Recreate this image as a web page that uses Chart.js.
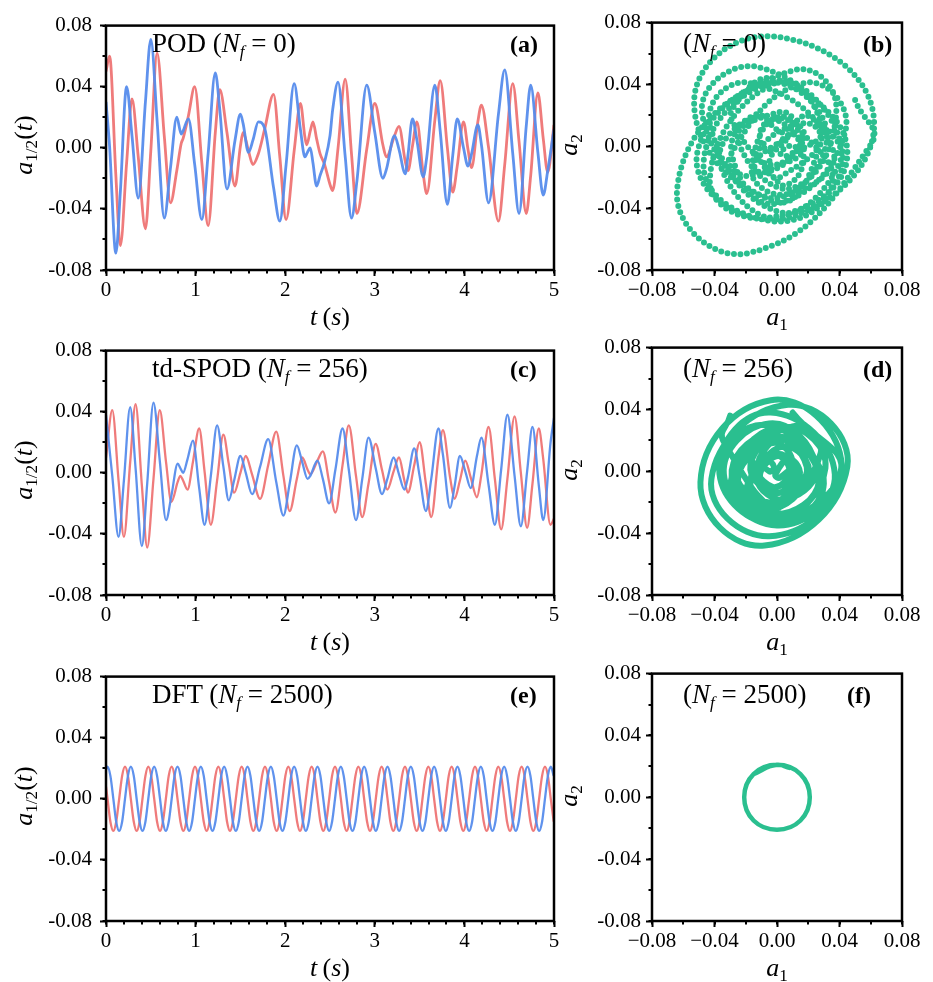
<!DOCTYPE html>
<html>
<head>
<meta charset="utf-8">
<title>Mode coefficients: POD, td-SPOD, DFT</title>
<script src="https://cdn.jsdelivr.net/npm/chart.js"></script>
<style>
  body { margin: 0; background: #fff; width: 933px; height: 982px; position: relative; overflow: hidden; font-family: "Liberation Serif", "DejaVu Serif", serif; }
  canvas { position: absolute; }
  .lbl { position: absolute; white-space: nowrap; color: #000; line-height: 1; }
  .big { font-size: 27px; }
  .tag { font-size: 24px; font-weight: bold; }
  .ttl { font-size: 26px; }
  .xt { transform: translateX(-50%); }
  .yt { transform: translate(-50%, -50%) rotate(-90deg); }
  .sf { font-size: 0.63em; font-style: italic; position: relative; top: 0.32em; }
  .sn { font-size: 0.66em; position: relative; top: 0.3em; }
</style>
</head>
<body>
  <canvas id="podLine" width="558" height="305" style="left:26px;top:5px"></canvas>
  <canvas id="podPhase" width="360" height="305" style="left:572px;top:5px"></canvas>
  <canvas id="spodLine" width="558" height="305" style="left:26px;top:330px"></canvas>
  <canvas id="spodPhase" width="360" height="305" style="left:572px;top:330px"></canvas>
  <canvas id="dftLine" width="558" height="305" style="left:26px;top:656px"></canvas>
  <canvas id="dftPhase" width="360" height="305" style="left:572px;top:656px"></canvas>

  <!-- panel notes -->
  <div class="lbl big" style="left:152px;top:30px">POD (<i>N</i><span class="sf">f</span> = 0)</div>
  <div class="lbl tag" style="left:510px;top:32px">(a)</div>
  <div class="lbl big" style="left:683px;top:30px">(<i>N</i><span class="sf">f</span> = 0)</div>
  <div class="lbl tag" style="left:863px;top:32px">(b)</div>

  <div class="lbl big" style="left:152px;top:355px">td-SPOD (<i>N</i><span class="sf">f</span> = 256)</div>
  <div class="lbl tag" style="left:510px;top:357px">(c)</div>
  <div class="lbl big" style="left:683px;top:355px">(<i>N</i><span class="sf">f</span> = 256)</div>
  <div class="lbl tag" style="left:863px;top:357px">(d)</div>

  <div class="lbl big" style="left:152px;top:681px">DFT (<i>N</i><span class="sf">f</span> = 2500)</div>
  <div class="lbl tag" style="left:510px;top:683px">(e)</div>
  <div class="lbl big" style="left:683px;top:681px">(<i>N</i><span class="sf">f</span> = 2500)</div>
  <div class="lbl tag" style="left:847px;top:683px">(f)</div>

  <!-- axis titles -->
  <div class="lbl ttl yt" style="left:24px;top:145px"><i>a</i><span class="sn">1/2</span>(<i>t</i>)</div>
  <div class="lbl ttl yt" style="left:24px;top:470px"><i>a</i><span class="sn">1/2</span>(<i>t</i>)</div>
  <div class="lbl ttl yt" style="left:24px;top:796px"><i>a</i><span class="sn">1/2</span>(<i>t</i>)</div>
  <div class="lbl ttl yt" style="left:569px;top:145px"><i>a</i><span class="sn">2</span></div>
  <div class="lbl ttl yt" style="left:569px;top:470px"><i>a</i><span class="sn">2</span></div>
  <div class="lbl ttl yt" style="left:569px;top:796px"><i>a</i><span class="sn">2</span></div>

  <div class="lbl ttl xt" style="left:330px;top:304px"><i>t</i>&#8201;(<i>s</i>)</div>
  <div class="lbl ttl xt" style="left:330px;top:629px"><i>t</i>&#8201;(<i>s</i>)</div>
  <div class="lbl ttl xt" style="left:330px;top:955px"><i>t</i>&#8201;(<i>s</i>)</div>
  <div class="lbl ttl xt" style="left:777px;top:304px"><i>a</i><span class="sn">1</span></div>
  <div class="lbl ttl xt" style="left:777px;top:629px"><i>a</i><span class="sn">1</span></div>
  <div class="lbl ttl xt" style="left:777px;top:955px"><i>a</i><span class="sn">1</span></div>

<script>
  // ---- tick values ----
  const timeTicks = [0, 1, 2, 3, 4, 5];
  const ampTicks = [-0.08, -0.04, 0, 0.04, 0.08];

  // ---- POD (Nf = 0): a1 (red) and a2 (blue) ----
  const podT = [
    0.00, 0.04, 0.11, 0.16, 0.23, 0.29, 0.36, 0.44, 0.50, 0.57,
    0.65, 0.72, 0.79, 0.84, 0.86, 0.92, 0.99, 1.07, 1.14, 1.22,
    1.27, 1.35, 1.44, 1.50, 1.53, 1.59, 1.64, 1.70, 1.77, 1.87,
    1.94, 2.01, 2.10, 2.17, 2.22, 2.24, 2.28, 2.31, 2.35, 2.39,
    2.44, 2.50, 2.53, 2.59, 2.67, 2.74, 2.80, 2.91, 3.00, 3.09,
    3.13, 3.22, 3.27, 3.34, 3.37, 3.42, 3.47, 3.54, 3.58, 3.67,
    3.73, 3.81, 3.87, 3.92, 3.99, 4.04, 4.08, 4.15, 4.19, 4.27,
    4.38, 4.45, 4.54, 4.61, 4.69, 4.74, 4.82, 4.88, 4.93, 5.00
  ];
  const podA1 = [
    0.050, 0.060, -0.018, -0.064, -0.010, 0.032, -0.006, -0.053, -0.002, 0.062,
    0.008, -0.036, -0.015, 0.003, 0.006, 0.021, 0.040, -0.010, -0.051, 0.010,
    0.038, 0.010, -0.025, 0.001, 0.010, -0.002, -0.011, -0.004, 0.012, 0.035,
    -0.006, -0.047, -0.002, 0.029, 0.007, 0.002, 0.011, 0.017, 0.006, -0.004,
    -0.011, -0.024, -0.028, 0.000, 0.045, -0.004, -0.043, -0.001, 0.029, 0.002,
    -0.006, 0.008, 0.014, -0.009, -0.015, 0.001, 0.017, -0.017, -0.030, 0.018,
    0.044, 0.000, -0.029, -0.012, 0.017, -0.001, -0.013, 0.017, 0.028, 0.000,
    -0.048, -0.011, 0.042, 0.004, -0.043, -0.018, 0.036, 0.006, -0.016, 0.015
  ];
  const podA2 = [
    0.030, 0.001, -0.069, -0.029, 0.040, 0.008, -0.033, 0.030, 0.071, 0.018,
    -0.046, -0.013, 0.020, 0.009, 0.011, 0.019, -0.011, -0.047, -0.004, 0.049,
    0.025, -0.027, 0.005, 0.022, 0.016, -0.003, 0.005, 0.017, 0.013, -0.026,
    -0.048, -0.011, 0.042, 0.012, -0.006, -0.004, 0.000, -0.010, -0.025, -0.018,
    -0.009, 0.008, 0.025, 0.043, -0.006, -0.046, -0.022, 0.041, 0.010, -0.020,
    -0.014, 0.008, -0.001, -0.017, -0.005, 0.019, 0.005, -0.019, -0.006, 0.041,
    0.011, -0.037, -0.005, 0.019, 0.000, -0.012, -0.004, 0.015, 0.002, -0.036,
    0.022, 0.051, -0.004, -0.043, 0.014, 0.041, -0.003, -0.031, -0.015, 0.012
  ];

  // ---- td-SPOD (Nf = 256), panel (c) ----
  const spodT = [
    0.00, 0.07, 0.14, 0.20, 0.27, 0.33, 0.40, 0.46, 0.53, 0.60,
    0.67, 0.73, 0.80, 0.83, 0.86, 0.91, 0.97, 1.04, 1.10, 1.17,
    1.24, 1.31, 1.37, 1.43, 1.50, 1.56, 1.63, 1.72, 1.81, 1.90,
    1.98, 2.05, 2.13, 2.19, 2.25, 2.28, 2.36, 2.42, 2.49, 2.56,
    2.64, 2.71, 2.79, 2.86, 2.93, 3.01, 3.08, 3.14, 3.21, 3.27,
    3.33, 3.37, 3.44, 3.50, 3.57, 3.63, 3.71, 3.76, 3.84, 3.89,
    3.95, 4.01, 4.07, 4.14, 4.19, 4.27, 4.34, 4.41, 4.48, 4.56,
    4.63, 4.70, 4.76, 4.83, 4.88, 4.96, 5.00
  ];
  const spodA1 = [
    0.010, 0.041, -0.005, -0.042, 0.007, 0.045, -0.008, -0.049, -0.004, 0.041,
    0.007, -0.019, -0.006, -0.002, -0.005, -0.011, 0.007, 0.029, 0.001, -0.034,
    -0.005, 0.025, 0.006, -0.013, 0.000, 0.011, -0.001, -0.017, 0.005, 0.027,
    -0.002, -0.025, -0.004, 0.010, 0.002, -0.001, 0.008, 0.014, -0.006, -0.026,
    0.005, 0.031, -0.002, -0.029, -0.007, 0.019, 0.002, -0.011, 0.001, 0.010,
    -0.005, -0.013, 0.005, 0.020, -0.007, -0.029, 0.010, 0.028, -0.003, -0.017,
    -0.005, 0.008, -0.003, -0.016, -0.001, 0.030, -0.004, -0.037, -0.004, 0.037,
    0.000, -0.036, -0.007, 0.029, 0.009, -0.034, -0.030
  ];
  const spodA2 = [
    0.038, -0.002, -0.042, -0.005, 0.043, 0.003, -0.048, -0.007, 0.046, 0.008,
    -0.031, -0.015, 0.006, 0.003, 0.000, 0.009, 0.021, -0.010, -0.034, -0.002,
    0.031, 0.004, -0.018, -0.005, 0.011, 0.000, -0.014, 0.004, 0.022, -0.006,
    -0.028, -0.007, 0.018, 0.007, -0.004, -0.002, 0.008, -0.004, -0.020, 0.002,
    0.029, 0.002, -0.031, -0.004, 0.023, 0.003, -0.014, -0.004, 0.010, -0.001,
    -0.011, -0.003, 0.016, -0.002, -0.025, -0.004, 0.029, 0.012, -0.023, -0.009,
    0.011, 0.001, -0.010, 0.011, 0.023, -0.008, -0.034, 0.002, 0.038, -0.002,
    -0.035, 0.001, 0.030, -0.008, -0.031, 0.019, 0.036
  ];

  // ---- DFT (Nf = 2500), panel (e): eight readings per period ----
  const dftT = [
    0.000,
    0.017, 0.049, 0.082, 0.114, 0.147, 0.180, 0.212, 0.245,
    0.277, 0.310, 0.342, 0.375, 0.407, 0.440, 0.472, 0.505,
    0.538, 0.570, 0.603, 0.635, 0.668, 0.700, 0.733, 0.765,
    0.798, 0.831, 0.863, 0.896, 0.928, 0.961, 0.993, 1.026,
    1.058, 1.091, 1.123, 1.156, 1.189, 1.221, 1.254, 1.286,
    1.319, 1.351, 1.384, 1.416, 1.449, 1.482, 1.514, 1.547,
    1.579, 1.612, 1.644, 1.677, 1.709, 1.742, 1.774, 1.807,
    1.840, 1.872, 1.905, 1.937, 1.970, 2.002, 2.035, 2.067,
    2.100, 2.133, 2.165, 2.198, 2.230, 2.263, 2.295, 2.328,
    2.360, 2.393, 2.425, 2.458, 2.491, 2.523, 2.556, 2.588,
    2.621, 2.653, 2.686, 2.718, 2.751, 2.784, 2.816, 2.849,
    2.881, 2.914, 2.946, 2.979, 3.011, 3.044, 3.076, 3.109,
    3.142, 3.174, 3.207, 3.239, 3.272, 3.304, 3.337, 3.369,
    3.402, 3.435, 3.467, 3.500, 3.532, 3.565, 3.597, 3.630,
    3.662, 3.695, 3.727, 3.760, 3.793, 3.825, 3.858, 3.890,
    3.923, 3.955, 3.988, 4.020, 4.053, 4.086, 4.118, 4.151,
    4.183, 4.216, 4.248, 4.281, 4.313, 4.346, 4.378, 4.411,
    4.444, 4.476, 4.509, 4.541, 4.574, 4.606, 4.639, 4.671,
    4.704, 4.737, 4.769, 4.802, 4.834, 4.867, 4.899, 4.932,
    4.964, 4.997
  ];
  const dftA1 = [
    0.008,
    0, -0.015, -0.021, -0.015, 0, 0.015, 0.021, 0.015,
    0, -0.015, -0.021, -0.015, 0, 0.015, 0.021, 0.015,
    0, -0.015, -0.021, -0.015, 0, 0.015, 0.021, 0.015,
    0, -0.015, -0.021, -0.015, 0, 0.015, 0.021, 0.015,
    0, -0.015, -0.021, -0.015, 0, 0.015, 0.021, 0.015,
    0, -0.015, -0.021, -0.015, 0, 0.015, 0.021, 0.015,
    0, -0.015, -0.021, -0.015, 0, 0.015, 0.021, 0.015,
    0, -0.015, -0.021, -0.015, 0, 0.015, 0.021, 0.015,
    0, -0.015, -0.021, -0.015, 0, 0.015, 0.021, 0.015,
    0, -0.015, -0.021, -0.015, 0, 0.015, 0.021, 0.015,
    0, -0.015, -0.021, -0.015, 0, 0.015, 0.021, 0.015,
    0, -0.015, -0.021, -0.015, 0, 0.015, 0.021, 0.015,
    0, -0.015, -0.021, -0.015, 0, 0.015, 0.021, 0.015,
    0, -0.015, -0.021, -0.015, 0, 0.015, 0.021, 0.015,
    0, -0.015, -0.021, -0.015, 0, 0.015, 0.021, 0.015,
    0, -0.015, -0.021, -0.015, 0, 0.015, 0.021, 0.015,
    0, -0.015, -0.021, -0.015, 0, 0.015, 0.021, 0.015,
    0, -0.015, -0.021, -0.015, 0, 0.015, 0.021, 0.015,
    0, -0.015, -0.021, -0.015, 0, 0.015, 0.021, 0.015,
    0, -0.015
  ];
  const dftA2 = [
    0.019,
    0.021, 0.015, 0, -0.015, -0.021, -0.015, 0, 0.015,
    0.021, 0.015, 0, -0.015, -0.021, -0.015, 0, 0.015,
    0.021, 0.015, 0, -0.015, -0.021, -0.015, 0, 0.015,
    0.021, 0.015, 0, -0.015, -0.021, -0.015, 0, 0.015,
    0.021, 0.015, 0, -0.015, -0.021, -0.015, 0, 0.015,
    0.021, 0.015, 0, -0.015, -0.021, -0.015, 0, 0.015,
    0.021, 0.015, 0, -0.015, -0.021, -0.015, 0, 0.015,
    0.021, 0.015, 0, -0.015, -0.021, -0.015, 0, 0.015,
    0.021, 0.015, 0, -0.015, -0.021, -0.015, 0, 0.015,
    0.021, 0.015, 0, -0.015, -0.021, -0.015, 0, 0.015,
    0.021, 0.015, 0, -0.015, -0.021, -0.015, 0, 0.015,
    0.021, 0.015, 0, -0.015, -0.021, -0.015, 0, 0.015,
    0.021, 0.015, 0, -0.015, -0.021, -0.015, 0, 0.015,
    0.021, 0.015, 0, -0.015, -0.021, -0.015, 0, 0.015,
    0.021, 0.015, 0, -0.015, -0.021, -0.015, 0, 0.015,
    0.021, 0.015, 0, -0.015, -0.021, -0.015, 0, 0.015,
    0.021, 0.015, 0, -0.015, -0.021, -0.015, 0, 0.015,
    0.021, 0.015, 0, -0.015, -0.021, -0.015, 0, 0.015,
    0.021, 0.015, 0, -0.015, -0.021, -0.015, 0, 0.015,
    0.021, 0.015
  ];

  const RED = 'rgba(238,112,112,0.92)';
  const BLUE = 'rgba(86,140,236,0.95)';
  const GREEN = 'rgba(24,186,134,0.92)';

  // box round the plot area plus the short minor ticks
  const framePlugin = {
    id: 'frame',
    afterDraw(chart, args, opts) {
      const { ctx, chartArea: a, scales } = chart;
      ctx.save();
      ctx.strokeStyle = '#000';
      ctx.lineWidth = 2;
      ctx.beginPath();
      const xs = scales.x, ys = scales.y;
      const nx = Math.round((xs.max - xs.min) / opts.x);
      for (let i = 0; i <= nx; i++) {
        const px = Math.round(xs.getPixelForValue(xs.min + i * opts.x));
        ctx.moveTo(px, a.bottom);
        ctx.lineTo(px, a.bottom + 3.5);
      }
      const ny = Math.round((ys.max - ys.min) / opts.y);
      for (let i = 0; i <= ny; i++) {
        const py = Math.round(ys.getPixelForValue(ys.min + i * opts.y));
        ctx.moveTo(a.left, py);
        ctx.lineTo(a.left - 3.5, py);
      }
      ctx.stroke();
      ctx.lineWidth = 2.5;
      ctx.strokeRect(a.left, a.top, a.right - a.left, a.bottom - a.top);
      ctx.restore();
    }
  };

  function fmt2(v, minus) {
    const s = (Math.abs(v) < 1e-9 ? 0 : v).toFixed(2);
    return minus ? s.replace('-', '\u2212') : s;
  }

  function axis(pos, min, max, tickVals, pad, label) {
    return {
      type: 'linear',
      min: min,
      max: max,
      afterBuildTicks: s => { s.ticks = tickVals.map(v => ({ value: v })); },
      afterFit: s => { if (pos === 'x') s.height = 40; else s.width = 80; },
      grid: { drawOnChartArea: false, drawTicks: true, tickLength: 6, tickWidth: 2, tickColor: '#000', color: '#000' },
      border: { display: false },
      ticks: {
        color: '#000',
        font: { family: 'Liberation Serif', size: 21 },
        padding: pad,
        maxRotation: 0,
        autoSkip: false,
        callback: label
      }
    };
  }

  function timeChart(id, t, a1, a2, width) {
    const toPts = arr => t.map((x, i) => ({ x: x, y: arr[i] }));
    const line = (data, color) => ({
      data: data, showLine: true, borderColor: color, borderWidth: width,
      pointRadius: 0, cubicInterpolationMode: 'monotone', borderJoinStyle: 'round'
    });
    return new Chart(document.getElementById(id), {
      type: 'scatter',
      data: { datasets: [line(toPts(a2), BLUE), line(toPts(a1), RED)] },
      options: {
        responsive: false,
        animation: false,
        layout: { padding: { left: 0, top: 15, right: 30, bottom: 0 } },
        plugins: { legend: { display: false }, tooltip: { enabled: false }, frame: { x: 0.2, y: 0.02 } },
        scales: {
          x: axis('x', 0, 5, timeTicks, 2, v => String(v)),
          y: axis('y', -0.08, 0.08, ampTicks, 8, v => fmt2(v, false))
        }
      },
      plugins: [framePlugin]
    });
  }

  function phaseChart(id, t, a1, a2, style) {
    const pts = t.map((x, i) => ({ x: a1[i], y: a2[i] }));
    return new Chart(document.getElementById(id), {
      type: 'scatter',
      data: {
        datasets: [Object.assign({
          data: pts, showLine: true, borderColor: GREEN, pointRadius: 0,
          tension: 0.5, borderCapStyle: 'round', borderJoinStyle: 'round'
        }, style)]
      },
      options: {
        responsive: false,
        animation: false,
        layout: { padding: { left: 0, top: 15, right: 30, bottom: 0 } },
        plugins: { legend: { display: false }, tooltip: { enabled: false }, frame: { x: 0.02, y: 0.02 } },
        scales: {
          x: axis('x', -0.08, 0.08, ampTicks, 2, v => fmt2(v, true)),
          y: axis('y', -0.08, 0.08, ampTicks, 5, v => fmt2(v, false))
        }
      },
      plugins: [framePlugin]
    });
  }

  timeChart('podLine', podT, podA1, podA2, 2.8);
  timeChart('spodLine', spodT, spodA1, spodA2, 2.3);
  timeChart('dftLine', dftT, dftA1, dftA2, 2.3);

  phaseChart('podPhase', podT, podA1, podA2, { borderWidth: 6, borderDash: [0, 6.5] });
  phaseChart('spodPhase', spodT, spodA1, spodA2, { borderWidth: 6 });
  phaseChart('dftPhase', dftT, dftA1, dftA2, { borderWidth: 4.5, tension: 0.38 });
</script>
</body>
</html>
